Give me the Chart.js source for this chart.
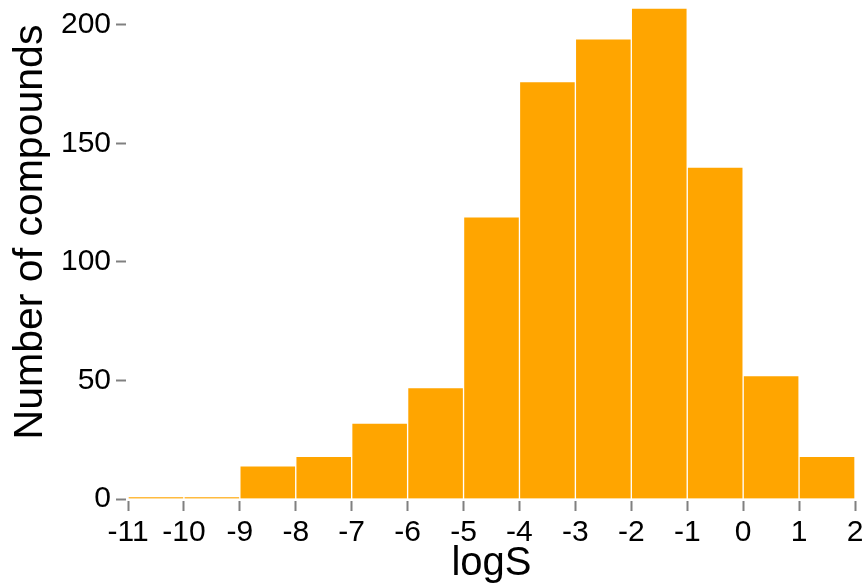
<!DOCTYPE html>
<html>
<head>
<meta charset="utf-8">
<script src="https://cdn.jsdelivr.net/npm/chart.js@4"></script>
<style>
  html, body { margin: 0; padding: 0; background: #ffffff; }
  #wrap { width: 868px; height: 588px; position: relative; }
</style>
</head>
<body>
<div id="wrap"><canvas id="c" width="868" height="588"></canvas></div>
<script>
// Histogram of logS: bin start edges (bin width 1) and counts per bin
const binStarts = [-11, -10, -9, -8, -7, -6, -5, -4, -3, -2, -1, 0, 1];
const counts    = [1, 1, 14, 18, 32, 47, 119, 176, 194, 207, 140, 52, 18];
const xTicks = [-11, -10, -9, -8, -7, -6, -5, -4, -3, -2, -1, 0, 1, 2];
const yTicks = [0, 50, 100, 150, 200];
const xTitle = 'logS';
const yTitle = 'Number of compounds';

const points = binStarts.map((s, i) => ({ x: s + 0.5, y: counts[i] }));
const FONT = '"Liberation Sans", Arial, sans-serif';

const yTitlePlugin = {
  id: 'yTitlePlugin',
  afterDraw(chart) {
    const { ctx, chartArea } = chart;
    ctx.save();
    ctx.font = '41px ' + FONT;
    ctx.fillStyle = '#000000';
    ctx.textAlign = 'center';
    ctx.textBaseline = 'middle';
    ctx.translate(31, (chartArea.top + chartArea.bottom) / 2 - 18);
    ctx.rotate(-Math.PI / 2);
    ctx.fillText(yTitle, 0, 0);
    ctx.restore();
  }
};

new Chart(document.getElementById('c'), {
  type: 'bar',
  data: {
    datasets: [{
      data: points,
      backgroundColor: '#FFA500',
      borderColor: '#FFFFFF',
      borderWidth: 1,
      barPercentage: 1,
      categoryPercentage: 1
    }]
  },
  options: {
    responsive: false,
    animation: false,
    devicePixelRatio: 1,
    layout: { padding: { top: 1, right: 13, left: 0, bottom: 0 } },
    plugins: { legend: { display: false }, tooltip: { enabled: false } },
    scales: {
      x: {
        type: 'linear',
        min: xTicks[0],
        max: xTicks[xTicks.length - 1],
        offset: false,
        afterFit(scale) { scale.height = 89; scale.paddingLeft = 0; scale.paddingRight = 0; },
        afterBuildTicks(scale) { scale.ticks = xTicks.map(v => ({ value: v })); },
        border: { display: false },
        grid: {
          offset: false,
          drawOnChartArea: false,
          drawTicks: true,
          tickLength: 12,
          tickColor: '#808080',
          tickWidth: 2,
          tickBorderDash: [0, 2, 10, 100]
        },
        ticks: {
          color: '#000000',
          padding: 4,
          maxRotation: 0,
          autoSkip: false,
          font: { family: FONT, size: 30 }
        },
        title: {
          display: true,
          text: xTitle,
          color: '#000000',
          padding: { top: 0, bottom: 0 },
          font: { family: FONT, size: 40 }
        }
      },
      y: {
        type: 'linear',
        min: 0,
        max: 210,
        afterFit(scale) { scale.width = 128; scale.paddingTop = 0; scale.paddingBottom = 0; },
        afterBuildTicks(scale) { scale.ticks = yTicks.map(v => ({ value: v })); },
        border: { display: false },
        grid: {
          offset: false,
          drawOnChartArea: false,
          drawTicks: true,
          tickLength: 12,
          tickColor: '#808080',
          tickWidth: 2,
          tickBorderDash: [10, 100]
        },
        ticks: {
          color: '#000000',
          padding: 5,
          autoSkip: false,
          font: { family: FONT, size: 30 }
        },
        title: { display: false }
      }
    }
  },
  plugins: [yTitlePlugin]
});
</script>
</body>
</html>
